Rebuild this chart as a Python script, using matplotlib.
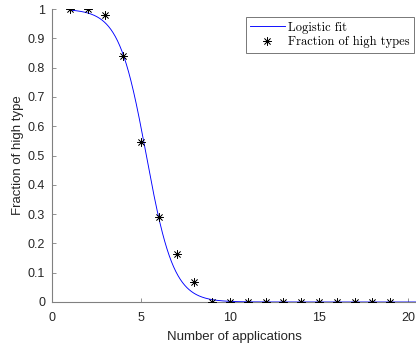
import numpy as np
import matplotlib
matplotlib.use("Agg")
import matplotlib.pyplot as plt

# Observed fraction of high types by number of applications
applications = [1, 2, 3, 4, 5, 6, 7, 8, 9, 10, 11, 12, 13, 14, 15, 16, 17, 18, 19]
fraction_high = [1.0, 1.0, 0.98, 0.84, 0.545, 0.29, 0.163, 0.067,
                 0, 0, 0, 0, 0, 0, 0, 0, 0, 0, 0]

# Fitted logistic curve parameters
fit_midpoint = 5.3
fit_rate = 1.3

yticks = [0, 0.1, 0.2, 0.3, 0.4, 0.5, 0.6, 0.7, 0.8, 0.9, 1]
ytick_labels = ["0", "0.1", "0.2", "0.3", "0.4", "0.5", "0.6", "0.7", "0.8", "0.9", "1"]
xticks = [0, 5, 10, 15, 20]

plt.rcParams["font.family"] = ["Liberation Sans", "DejaVu Sans"]

fig = plt.figure(figsize=(4.16, 3.43), dpi=100)
ax = fig.add_axes([52 / 416, 1 - 302 / 343, 1 - 52 / 416, (302 - 9) / 343])

xs = np.linspace(1, 21, 800)
fit = 1.0 / (1.0 + np.exp(fit_rate * (xs - fit_midpoint)))
ax.plot(xs, fit, color=(0, 0, 1), lw=0.65, label="Logistic fit", zorder=2)
ax.plot(applications, fraction_high, linestyle="none", marker=(8, 2, 0),
        markersize=6, markeredgewidth=0.5, color="black",
        label="Fraction of high types", zorder=3)

ax.set_xlim(0, 20.45)
ax.set_ylim(0, 1)
ax.set_xticks(xticks)
ax.set_yticks(yticks)
ax.set_yticklabels(ytick_labels)

for side in ("top", "right"):
    ax.spines[side].set_visible(False)
for side in ("left", "bottom"):
    ax.spines[side].set_color("#808080")
    ax.spines[side].set_linewidth(0.8)
ax.tick_params(direction="in", length=3, width=0.6, color="#808080",
               labelcolor="#262626", labelsize=9, pad=5)
ax.tick_params(axis="x", pad=7)

ax.set_xlabel("Number of applications", fontsize=9.5, color="#262626", labelpad=5)
ax.set_ylabel("Fraction of high type", fontsize=9.5, color="#262626", labelpad=3)

leg = ax.legend(loc="upper right", prop={"family": "cmr10", "size": 9},
                frameon=True, fancybox=False, borderpad=0.35, handlelength=2.8,
                handletextpad=0.25, labelspacing=0.2, borderaxespad=0)
leg.get_frame().set_edgecolor("#555555")
leg.get_frame().set_linewidth(0.7)
leg.set_bbox_to_anchor((414 / 416, 1 - 17 / 343), transform=fig.transFigure)

fig.savefig("out.png", dpi=100)
